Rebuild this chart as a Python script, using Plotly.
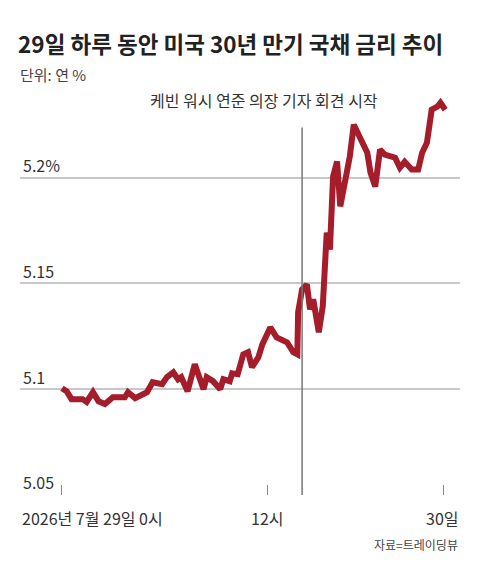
import plotly.graph_objects as go

# chart position (hours on the drawn scale) since 7/29 0시, 30-year yield (%)
hours = [0, 0.3, 0.6, 1.3, 1.55, 1.95, 2.3, 2.7, 3.2, 3.95, 4.15, 4.6, 5.35, 5.7, 6.3, 6.6, 7.0, 7.3,
         7.5, 7.9, 8.35, 8.9, 9.1, 9.5, 9.95, 10.15, 10.55, 10.7, 11.05, 11.4, 11.7, 11.95, 12.35, 12.6,
         13.1, 13.5, 14.15, 14.55, 14.8, 14.85, 15.1, 15.4, 15.6, 15.8, 16.15, 16.4, 16.65, 16.85,
         17.05, 17.3, 17.5, 17.8, 18.1, 18.35, 18.75, 19.2, 19.4, 19.7, 20.0, 20.3, 20.95, 21.25,
         21.55, 22.0, 22.4, 22.65, 22.95, 23.25, 23.6, 23.8, 24.1]
yields = [5.1005, 5.099, 5.0953, 5.0953, 5.094, 5.0986, 5.0943, 5.093, 5.0962, 5.0962, 5.0986, 5.0958,
          5.0986, 5.1033, 5.1024, 5.1057, 5.108, 5.1047, 5.1057, 5.099, 5.1118, 5.1, 5.1057, 5.1038,
          5.1, 5.1047, 5.1038, 5.1075, 5.1071, 5.1165, 5.1175, 5.1104, 5.1151, 5.1212, 5.1292, 5.1245,
          5.1222, 5.1175, 5.1165, 5.1363, 5.1472, 5.1495, 5.1377, 5.1425, 5.1269, 5.1392, 5.174, 5.166,
          5.2005, 5.2076, 5.1864, 5.1991, 5.21, 5.225, 5.2194, 5.2118, 5.2024, 5.1958, 5.2132, 5.2109,
          5.2094, 5.2047, 5.2075, 5.2038, 5.2038, 5.2118, 5.2165, 5.2321, 5.2335, 5.2354, 5.2321]
x_ticks = [0, 12.9, 24]
x_labels = ["2026년 7월 29일 0시", "12시", "30일"]
y_ticks = [5.05, 5.1, 5.15, 5.2]
y_labels = ["5.05", "5.1", "5.15", "5.2%"]
event_hour = 15.1

font = "Noto Sans CJK KR"
fig = go.Figure(go.Scatter(x=hours, y=yields, mode="lines",
                           line=dict(color="#a51c2a", width=6), hoverinfo="skip"))

fig.add_shape(type="line", x0=event_hour, x1=event_hour, y0=5.05, y1=5.2237,
              line=dict(color="#777", width=1.5))
fig.add_annotation(x=event_hour, y=5.2367, text="케빈 워시 연준 의장 기자 회견 시작",
                   showarrow=False, xanchor="center", xshift=-38, yanchor="middle",
                   font=dict(size=16, color="#333"))

# page body adds an 8px offset, margins compensate
fig.update_layout(
    width=480, height=570, margin=dict(l=12, r=28, t=85, b=83),
    plot_bgcolor="white", paper_bgcolor="white", showlegend=False,
    font=dict(family=font, color="#333"),
    title=dict(text="<b>29일 하루 동안 미국 30년 만기 국채 금리 추이</b>",
               x=0.021, xanchor="left", y=0.935, yanchor="middle",
               font=dict(size=22.5, color="#222")),
    xaxis=dict(range=[-2.64, 25.03], tickvals=x_ticks, showticklabels=False, automargin=False,
               showgrid=False, zeroline=False, ticks="inside", ticklen=10,
               tickcolor="#888", showline=False),
    yaxis=dict(range=[5.05, 5.24], tickvals=y_ticks, ticktext=y_labels, automargin=False,
               ticklabelposition="inside top", gridcolor="#c8c8c8", gridwidth=1.5,
               zeroline=False, showline=False, tickfont=dict(size=16, color="#333")),
)
anchors = ["left", "center", "right"]
xs = [-2.64, x_ticks[1], 25.03]
for xv, lab, anc in zip(xs, x_labels, anchors):
    fig.add_annotation(text=lab, x=xv, y=0, yref="paper", yshift=-23, xanchor=anc,
                       yanchor="middle", showarrow=False, font=dict(size=16, color="#333"))
fig.add_annotation(text="단위: 연 %", xref="paper", yref="paper", x=-0.005, y=1.045,
                   xanchor="left", yanchor="middle", showarrow=False,
                   font=dict(size=15, color="#444"))
fig.add_annotation(text="자료=트레이딩뷰", xref="paper", yref="paper", x=1.0, y=-0.124,
                   xanchor="right", yanchor="middle", showarrow=False,
                   font=dict(size=12, color="#444"))

fig.write_html("out.html")
